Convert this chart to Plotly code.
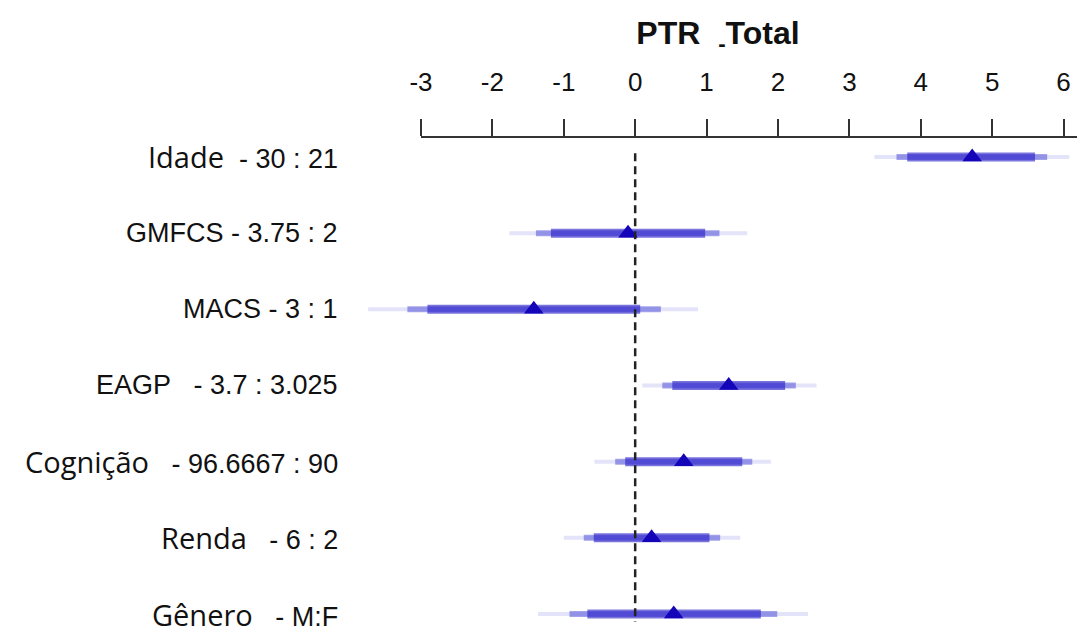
import plotly.graph_objects as go

# ---------------- data ----------------
names = ["Idade", "GMFCS", "MACS", "EAGP", "Cognição", "Renda", "Gênero"]
name_fonts = ["Open Sans", "Liberation Sans", "Liberation Sans", "Liberation Sans",
              "Open Sans", "Open Sans", "Open Sans"]
separators = ["\u00a0 ", " ", " ", "\u00a0\u00a0 ", "\u00a0\u00a0 ", "\u00a0\u00a0 ", "\u00a0\u00a0 "]
contrasts = ["- 30 : 21", "- 3.75 : 2", "- 3 : 1", "- 3.7 : 3.025", "- 96.6667 : 90", "- 6 : 2", "- M:F"]

effect = [4.72, -0.10, -1.42, 1.31, 0.68, 0.23, 0.54]
lo90 = [3.81, -1.18, -2.91, 0.52, -0.14, -0.58, -0.67]
hi90 = [5.60, 0.98, 0.07, 2.10, 1.50, 1.04, 1.76]
lo95 = [3.66, -1.39, -3.19, 0.38, -0.28, -0.72, -0.92]
hi95 = [5.77, 1.18, 0.36, 2.25, 1.64, 1.19, 1.99]
lo99 = [3.35, -1.76, -3.74, 0.10, -0.57, -1.00, -1.36]
hi99 = [6.08, 1.57, 0.88, 2.54, 1.90, 1.47, 2.42]

tick_vals = [-3, -2, -1, 0, 1, 2, 3, 4, 5, 6]
tick_text = ["-3", "-2", "-1", "0", "1", "2", "3", "4", "5", "6"]

title_text = "<b>PTR\u00a0\u00a0<sub>-</sub>Total</b>"

# ---------------- layout constants ----------------
# page body has an 8px margin, so the figure is 8px smaller than the window
FIG_W, FIG_H = 1077, 623
X_RANGE = [-8.784, 6.300]
Y_RANGE = [6.223, -0.262]
rows = list(range(len(names)))


def segments(lo, hi):
    xs, ys = [], []
    for i, (a, b) in enumerate(zip(lo, hi)):
        xs += [a, b, None]
        ys += [i, i, None]
    return xs, ys


fig = go.Figure()

levels = [
    (lo99, hi99, "rgba(25,25,204,0.12)", 4),
    (lo95, hi95, "rgba(25,25,204,0.40)", 6),
    (lo90, hi90, "rgba(40,30,200,0.62)", 9),
]
for lo, hi, col, w in levels:
    xs, ys = segments(lo, hi)
    fig.add_trace(go.Scatter(x=xs, y=ys, mode="lines",
                             line=dict(color=col, width=w),
                             hoverinfo="skip", showlegend=False))

fig.add_trace(go.Scatter(x=effect, y=rows, mode="markers",
                         marker=dict(symbol="triangle-up", size=17,
                                     color="rgb(20,5,185)",
                                     line=dict(width=0)),
                         showlegend=False))

# reference line at zero (drawn over the intervals)
fig.add_shape(type="line", xref="x", yref="y", x0=0, x1=0, y0=-0.05, y1=6.1,
              line=dict(color="#222222", width=2.5, dash="8px,5px"), layer="above")

# axis line (starts at the first tick)
fig.add_shape(type="line", xref="x", yref="paper", x0=tick_vals[0], x1=X_RANGE[1],
              y0=1, y1=1, line=dict(color="#333333", width=2))

# row labels
for i, (nm, fnt, sep, ct) in enumerate(zip(names, name_fonts, separators, contrasts)):
    size = 29 if fnt == "Open Sans" else 27
    txt = f'<span style="font-family:\'{fnt}\';font-size:{size}px">{nm}</span>{sep}{ct}'
    fig.add_annotation(x=332 / FIG_W, xref="paper", y=i, yref="y",
                       text=txt, showarrow=False, xanchor="right", yanchor="middle",
                       font=dict(family="Liberation Sans, Arial", size=27, color="#111111"))

fig.update_layout(
    width=FIG_W, height=FIG_H, autosize=False,
    margin=dict(l=0, r=0, t=129, b=0),
    paper_bgcolor="white", plot_bgcolor="white",
    title=dict(text=title_text, x=710 / FIG_W, xanchor="center",
               y=1 - 25 / FIG_H, yanchor="middle", yref="container",
               font=dict(family="Liberation Sans, Arial", size=32, color="#111111")),
    xaxis=dict(range=X_RANGE, side="top", tickmode="array", tickvals=tick_vals,
               ticktext=tick_text, ticks="outside", ticklen=17, tickwidth=2,
               tickcolor="#333333", showgrid=False, zeroline=False, showline=False,
               ticklabelstandoff=18,
               tickfont=dict(family="Liberation Sans, Arial", size=26, color="#111111")),
    yaxis=dict(range=Y_RANGE, visible=False),
)

fig.write_html("out.html")
